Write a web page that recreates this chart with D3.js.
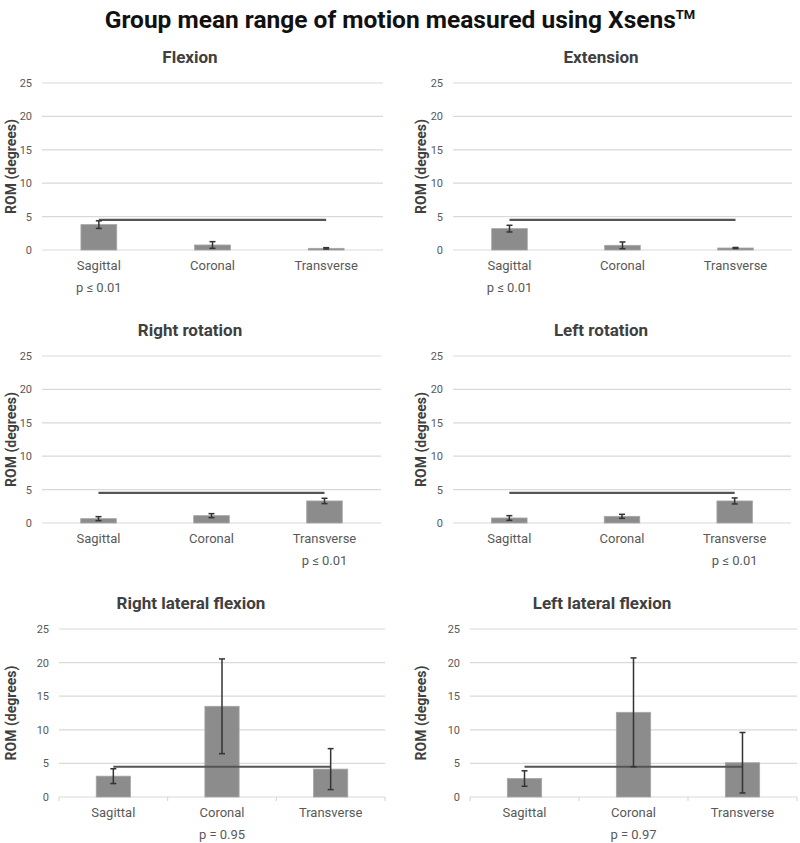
<!DOCTYPE html>
<html>
<head>
<meta charset="utf-8">
<script src="https://cdn.jsdelivr.net/npm/d3@7"></script>
<style>
  body { margin: 0; background: #fff; }
  text { font-family: Roboto, "Liberation Sans", sans-serif; }
</style>
</head>
<body>
<div id="chart"></div>
<script>
// data
const categories = ["Sagittal", "Coronal", "Transverse"];
const panelTitles = ["Flexion", "Extension", "Right rotation", "Left rotation",
    "Right lateral flexion", "Left lateral flexion"];
const meanValues = [
    [3.8, 0.75, 0.25],
    [3.2, 0.7, 0.3],
    [0.65, 1.1, 3.3],
    [0.75, 1.0, 3.3],
    [3.1, 13.5, 4.15],
    [2.75, 12.6, 5.1]
];
const errorValues = [
    [0.57, 0.5, 0.1],
    [0.5, 0.5, 0.08],
    [0.3, 0.3, 0.4],
    [0.35, 0.3, 0.45],
    [1.1, 7.05, 3.05],
    [1.15, 8.1, 4.5]
];
const refLineValues = [4.5, 4.5, 4.5, 4.5, 4.5, 4.5];
const pLabels = ["p \u2264 0.01", "p \u2264 0.01", "p \u2264 0.01", "p \u2264 0.01", "p = 0.95", "p = 0.97"];
const pCategories = ["Sagittal", "Sagittal", "Transverse", "Transverse", "Coronal", "Coronal"];
const yTicks = [0, 5, 10, 15, 20, 25];

// panel placement (pixels)
const layout = [
    {x0: 42, x1: 383, top: 83, bottom: 250, titleX: 190, axisTicks: false},
    {x0: 453, x1: 792, top: 83, bottom: 250, titleX: 601, axisTicks: false},
    {x0: 42, x1: 381, top: 356, bottom: 523, titleX: 190, axisTicks: false},
    {x0: 453, x1: 791, top: 356, bottom: 523, titleX: 601, axisTicks: false},
    {x0: 59, x1: 385, top: 629, bottom: 797, titleX: 191, axisTicks: true},
    {x0: 470, x1: 797, top: 629, bottom: 797, titleX: 602, axisTicks: true}
];

const width = 800, height = 843;
const svg = d3.select("#chart").append("svg")
    .attr("width", width)
    .attr("height", height);

//main title
const title = svg.append("text")
    .attr("x", 400)
    .attr("y", 28)
    .attr("text-anchor", "middle")
    .attr("font-size", 24.5)
    .attr("font-weight", "bold")
    .attr("fill", "#111");
title.append("tspan").text("Group mean range of motion measured using Xsens");
title.append("tspan").attr("font-size", 13).attr("dy", -9).text("TM");

for (let i = 0; i < panelTitles.length; i++) {
    drawPanel(i);
}

function drawPanel(i) {
    const box = layout[i];
    const g = svg.append("g");

    const x = d3.scaleBand()
        .domain(categories)
        .range([box.x0, box.x1])
        .paddingInner(0.685)
        .paddingOuter(0.3425);
    const y = d3.scaleLinear()
        .domain([0, 25])
        .range([box.bottom, box.top]);
    const centre = d => x(d) + x.bandwidth() / 2;

    //gridlines
    g.append("g")
        .selectAll("line")
        .data(yTicks.filter(t => t > 0 || !box.axisTicks))
        .join("line")
        .attr("x1", box.x0)
        .attr("x2", box.x1)
        .attr("y1", d => y(d))
        .attr("y2", d => y(d))
        .attr("stroke", "#d9d9d9")
        .attr("stroke-width", 1.2);

    //y tick labels
    const yAxis = g.append("g")
        .attr("transform", "translate(" + box.x0 + ",0)")
        .call(d3.axisLeft(y).tickValues(yTicks).tickSize(0).tickPadding(10));
    yAxis.select(".domain").remove();
    yAxis.selectAll("text")
        .attr("font-size", 11)
        .attr("fill", "#595959")
        .attr("font-family", "Roboto, sans-serif");

    //x axis
    const xAxis = g.append("g")
        .attr("transform", "translate(0," + box.bottom + ")")
        .call(d3.axisBottom(x).tickSize(0).tickPadding(11));
    xAxis.select(".domain").remove();
    xAxis.selectAll("text")
        .attr("font-size", 13)
        .attr("fill", "#595959")
        .attr("font-family", "Roboto, sans-serif");
    if (box.axisTicks) {
        g.append("line")
            .attr("x1", box.x0).attr("x2", box.x1)
            .attr("y1", y(0)).attr("y2", y(0))
            .attr("stroke", "#d9d9d9").attr("stroke-width", 1.2);
        const edges = categories.map(c => x(c) - x.step() * x.paddingInner() / 2);
        edges.push(box.x1);
        edges[0] = box.x0;
        g.append("g").selectAll("line")
            .data(edges)
            .join("line")
            .attr("x1", d => d).attr("x2", d => d)
            .attr("y1", y(0)).attr("y2", y(0) + 4)
            .attr("stroke", "#d9d9d9").attr("stroke-width", 1.2);
    }

    //bars
    const rows = categories.map((c, j) => ({cat: c, mean: meanValues[i][j], err: errorValues[i][j]}));
    g.append("g")
        .selectAll("rect")
        .data(rows)
        .join("rect")
        .attr("x", d => x(d.cat))
        .attr("width", x.bandwidth())
        .attr("y", d => y(d.mean))
        .attr("height", d => y(0) - y(d.mean))
        .attr("fill", "#8c8c8c")
        .attr("stroke", "#a6a6a6")
        .attr("stroke-width", 0.8);

    //reference line between first and last category
    g.append("line")
        .attr("x1", centre(categories[0]))
        .attr("x2", centre(categories[categories.length - 1]))
        .attr("y1", y(refLineValues[i]))
        .attr("y2", y(refLineValues[i]))
        .attr("stroke", "#555555")
        .attr("stroke-width", 2.2);

    //error bars
    const eb = g.append("g")
        .attr("stroke", "#333333")
        .attr("stroke-width", 1.5);
    eb.selectAll("line.v")
        .data(rows)
        .join("line")
        .attr("class", "v")
        .attr("x1", d => centre(d.cat)).attr("x2", d => centre(d.cat))
        .attr("y1", d => y(d.mean + d.err))
        .attr("y2", d => y(Math.max(0, d.mean - d.err)));
    eb.selectAll("line.cap")
        .data(rows.flatMap(d => [d.mean + d.err, Math.max(0, d.mean - d.err)].map(v => ({cat: d.cat, v: v}))))
        .join("line")
        .attr("class", "cap")
        .attr("x1", d => centre(d.cat) - 3).attr("x2", d => centre(d.cat) + 3)
        .attr("y1", d => y(d.v)).attr("y2", d => y(d.v));

    //panel title
    g.append("text")
        .attr("x", box.titleX)
        .attr("y", box.top - 20)
        .attr("text-anchor", "middle")
        .attr("font-size", 17)
        .attr("font-weight", "bold")
        .attr("fill", "#404040")
        .text(panelTitles[i]);

    //y axis label
    const labelX = (i % 2 === 0) ? 15.5 : 426;
    g.append("text")
        .attr("transform", "translate(" + labelX + "," + ((box.top + box.bottom) / 2) + ") rotate(-90)")
        .attr("text-anchor", "middle")
        .attr("font-size", 14)
        .attr("font-weight", "bold")
        .attr("fill", "#404040")
        .text("ROM (degrees)");

    //p value
    g.append("text")
        .attr("x", centre(pCategories[i]))
        .attr("y", box.bottom + 42)
        .attr("text-anchor", "middle")
        .attr("font-size", 13)
        .attr("fill", "#595959")
        .text(pLabels[i]);
}
</script>
</body>
</html>
